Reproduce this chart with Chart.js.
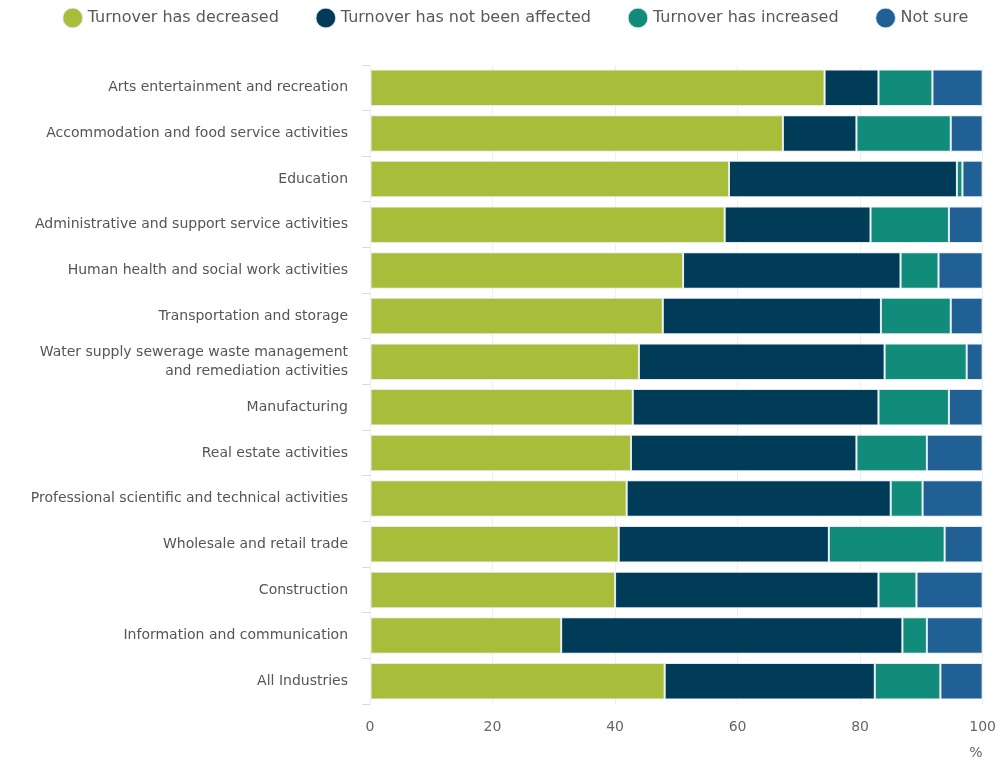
<!DOCTYPE html>
<html>
<head>
<meta charset="utf-8">
<script src="https://cdn.jsdelivr.net/npm/chart.js@4"></script>
<style>
  html, body { margin: 0; padding: 0; background: #fff; }
  #wrap { width: 1000px; height: 760px; position: relative; }
</style>
</head>
<body>
<div id="wrap"><canvas id="turnover-chart"></canvas></div>
<script>
// Industries, top to bottom
const industries = [
    'Arts entertainment and recreation',
    'Accommodation and food service activities',
    'Education',
    'Administrative and support service activities',
    'Human health and social work activities',
    'Transportation and storage',
    ['Water supply sewerage waste management', 'and remediation activities'],
    'Manufacturing',
    'Real estate activities',
    'Professional scientific and technical activities',
    'Wholesale and retail trade',
    'Construction',
    'Information and communication',
    'All Industries'
];

// Percent of businesses
const decreased   = [74.2, 67.4, 58.6, 57.9, 51.1, 47.8, 43.9, 42.9, 42.6, 41.9, 40.6, 40.0, 31.2, 48.1];
const notAffected = [8.8, 12.0, 37.2, 23.8, 35.5, 35.6, 40.1, 40.1, 36.8, 43.1, 34.3, 43.0, 55.7, 34.3];
const increased   = [8.8, 15.4, 0.9, 12.8, 6.2, 11.4, 13.4, 11.5, 11.5, 5.2, 18.9, 6.2, 4.0, 10.7];
const notSure     = [8.2, 5.2, 3.3, 5.5, 7.2, 5.2, 2.6, 5.5, 9.1, 9.8, 6.2, 10.8, 9.1, 6.9];

const xTicks = [0, 20, 40, 60, 80, 100];

const seriesNames = ['Turnover has decreased', 'Turnover has not been affected', 'Turnover has increased', 'Not sure'];
const seriesColours = ['#a8bd3a', '#003c57', '#118c7b', '#206095'];
const seriesData = [decreased, notAffected, increased, notSure];

// push the plot area down below the legend, and nudge the legend a little right
const legendTweak = {
    id: 'legendTweak',
    beforeInit(chart) {
        const legend = chart.legend;
        const fit = legend.fit;
        legend.fit = function () {
            fit.bind(legend)();
            this.height += 29;
        };
        const draw = legend.draw;
        legend.draw = function () {
            const c = chart.ctx;
            c.save();
            c.translate(19, 0);
            draw.bind(legend)();
            c.restore();
        };
    }
};

const ctx = document.getElementById('turnover-chart').getContext('2d');

new Chart(ctx, {
    type: 'bar',
    data: {
        labels: industries,
        datasets: seriesData.map((d, i) => ({
            label: seriesNames[i],
            data: d,
            backgroundColor: seriesColours[i],
            borderColor: 'rgba(225, 232, 240, 0.9)',
            borderWidth: 1,
            borderSkipped: false,
            barPercentage: 0.8,
            categoryPercentage: 1
        }))
    },
    options: {
        indexAxis: 'y',
        responsive: true,
        maintainAspectRatio: false,
        animation: false,
        layout: { padding: { left: 0, right: 4, top: -30, bottom: 0 } },
        plugins: {
            legend: {
                position: 'top',
                labels: {
                    usePointStyle: true,
                    pointStyle: 'circle',
                    boxWidth: 14,
                    boxHeight: 14,
                    padding: 40,
                    color: '#595959',
                    font: { family: 'DejaVu Sans', size: 16 }
                }
            },
            tooltip: { enabled: false }
        },
        scales: {
            x: {
                stacked: true,
                min: 0,
                max: 100,
                afterBuildTicks: axis => { axis.ticks = xTicks.map(v => ({ value: v })); },
                grid: { color: '#eceff4', drawTicks: true, tickLength: 12, tickColor: 'rgba(0,0,0,0)' },
                border: { display: false },
                ticks: { color: '#666', padding: 4, font: { family: 'DejaVu Sans', size: 14, lineHeight: 1 } },
                title: {
                    display: true,
                    text: '%',
                    align: 'end',
                    color: '#666',
                    padding: { top: 8, bottom: 0 },
                    font: { family: 'DejaVu Sans', size: 14, lineHeight: 1 }
                }
            },
            y: {
                stacked: true,
                afterFit: axis => { axis.width = 370; },
                grid: { offset: true, drawOnChartArea: false, tickLength: 8, color: '#d3dbe8' },
                border: { display: false },
                ticks: { color: '#555', padding: 14, font: { family: 'DejaVu Sans', size: 14, lineHeight: 1.4 } }
            }
        }
    },
    plugins: [legendTweak]
});
</script>
</body>
</html>
